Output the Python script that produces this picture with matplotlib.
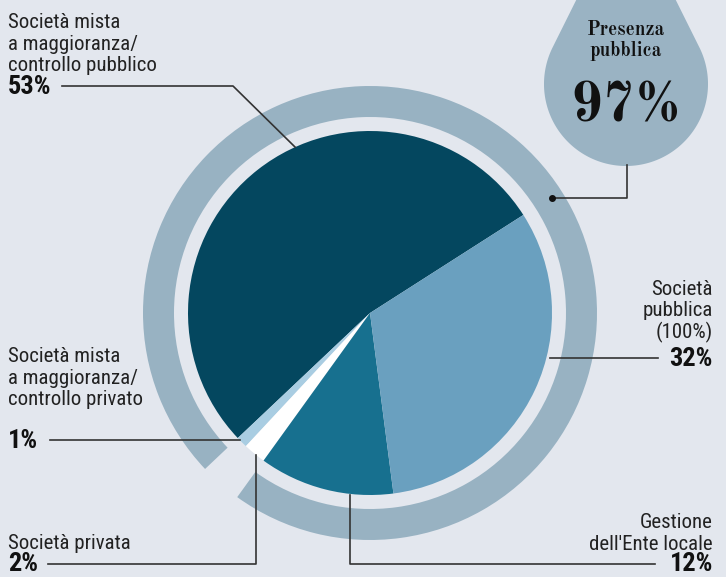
import numpy as np
import matplotlib.pyplot as plt
from matplotlib.patches import Wedge, PathPatch
from matplotlib.path import Path

# data
labels = ["Società mista\na maggioranza/\ncontrollo pubblico",
          "Società mista\na maggioranza/\ncontrollo privato",
          "Società privata",
          "Gestione\ndell'Ente locale",
          "Società\npubblica\n(100%)"]
shares = [53, 1, 2, 12, 32]
colors = ["#04475f", "#a9cde2", "#ffffff", "#17708f", "#6aa0bf"]
public_total = 97

W, H = 726, 577
bg = "#e3e7ee"
ring_col = "#98b2c2"

fig = plt.figure(figsize=(W / 100, H / 100), dpi=100, facecolor=bg)
ax = fig.add_axes([0, 0, 1, 1])

def py(y):
    # pixel y (from top) -> data y
    return H - y

cx, cy, r = 370, py(313), 182
start = 32.6

ax.pie(shares, colors=colors, startangle=start, counterclock=True,
       center=(cx, cy), radius=r, frame=True,
       wedgeprops=dict(linewidth=0))
ax.set_xlim(0, W)
ax.set_ylim(0, H)
ax.set_aspect("equal")
ax.axis("off")

# outer ring over the public share (skips the private slices)
angles = start + np.concatenate([[0], np.cumsum(shares)]) * 3.6
priv_start = angles[1]
priv_end = angles[3]
ax.add_patch(Wedge((cx, cy), 227, priv_end, priv_start + 360, width=31,
                   facecolor=ring_col, edgecolor="none"))

# drop shape
dcx, dcy, dr = 626, py(84), 82
tip = np.array([dcx, py(-100)])
d = tip[1] - dcy
a = np.arccos(dr / d)
th = np.linspace(np.pi / 2 - a, np.pi / 2 - a - (2 * np.pi - 2 * a), 200)
pts = np.column_stack([dcx + dr * np.cos(th), dcy + dr * np.sin(th)])
pts = np.vstack([tip, pts, tip])
ax.add_patch(PathPatch(Path(pts), facecolor="#9ab3c3", edgecolor="none"))

serif = ["Old Standard TT", "Liberation Serif"]
ax.text(dcx, py(35), "Presenza", ha="center", va="baseline", family=serif,
        fontweight="bold", fontsize=14, color="#111111")
ax.text(dcx, py(56), "pubblica", ha="center", va="baseline", family=serif,
        fontweight="bold", fontsize=14, color="#111111")
ax.text(dcx, py(122), f"{public_total}%", ha="center", va="baseline", family=serif,
        fontweight="bold", fontsize=40, color="#111111")

lc = "#333333"
lw = 1.2
sans = ["Roboto Condensed", "PT Sans Narrow", "Archivo Narrow",
        "Liberation Sans Narrow", "Roboto", "DejaVu Sans"]
fs = 15
pfs = 19
step = 21.5

def label(x, base, text, ha="left"):
    for i, line in enumerate(text.split("\n")):
        ax.text(x, py(base + i * step), line, ha=ha, va="baseline", family=sans,
                fontsize=fs, color="#222222")

def pct(x, base, v, ha="left"):
    ax.text(x, py(base), f"{v}%", ha=ha, va="baseline", family=sans,
            fontsize=pfs, fontweight="bold", color="#111111")

# 53%
label(8, 28, labels[0])
pct(8, 94, shares[0])
ax.plot([62, 233, 295], [py(86), py(86), py(147)], color=lc, lw=lw)

# 1%
label(8, 362, labels[1])
pct(8, 448, shares[1])
ax.plot([50, 240], [py(440), py(440)], color=lc, lw=lw)

# 2%
label(8, 549, labels[2])
pct(8, 571, shares[2])
ax.plot([48, 256, 256], [py(564), py(564), py(455)], color=lc, lw=lw)

# 12%
label(713, 528, labels[3], ha="right")
pct(713, 571, shares[3], ha="right")
ax.plot([350, 350, 655], [py(495), py(564), py(564)], color=lc, lw=lw)

# 32%
label(713, 295, labels[4], ha="right")
pct(713, 366, shares[4], ha="right")
ax.plot([550, 658], [py(358), py(358)], color=lc, lw=lw)

# 97% marker
ax.plot([552, 627, 627], [py(198), py(198), py(165)], color=lc, lw=lw)
ax.plot(552, py(198), "o", color="#111111", ms=4)

fig.savefig("out.png", dpi=100, facecolor=bg)
